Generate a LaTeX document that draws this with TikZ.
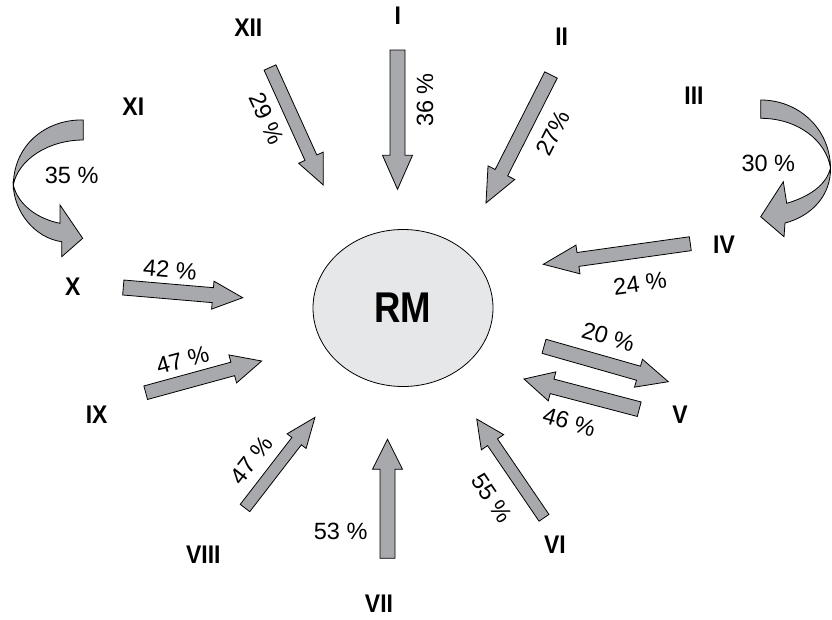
\documentclass[tikz,border=0pt]{standalone}
\usepackage{fontspec}
\setmainfont{Liberation Sans}
\usetikzlibrary{calc,shapes.geometric}
\definecolor{arrowgray}{HTML}{A7A9AC}
\definecolor{rmgray}{HTML}{E6E7E8}
\newcommand\narrow[1]{\scalebox{0.9}[1]{#1}}
\begin{document}
\begin{tikzpicture}[x=1pt,y=-1pt,
  arrowbody/.style={draw=black,fill=arrowgray,line width=0.8pt,line join=miter},
  numeral/.style={font=\bfseries\fontsize{25.5}{26}\selectfont,inner sep=0pt},
  share/.style={font=\fontsize{23.5}{24}\selectfont,inner sep=0pt},
  pics/blockarrow/.style={code={
     \tikzset{blockarrow/.cd,#1}
     \def\pv##1{\pgfkeysvalueof{/tikz/blockarrow/##1}}
     \draw[arrowbody] (0,-\pv{shaft}) -- (\pv{length}-\pv{headlen},-\pv{shaft})
       -- (\pv{length}-\pv{headlen},-\pv{head}) -- (\pv{length},0)
       -- (\pv{length}-\pv{headlen},\pv{head}) -- (\pv{length}-\pv{headlen},\pv{shaft})
       -- (0,\pv{shaft}) -- cycle;
    }},blockarrow/.cd,length/.initial=100,shaft/.initial=7,head/.initial=15,
    headlen/.initial=32]
 \useasboundingbox (0,0) rectangle (832,619);
 % centre
 \node[ellipse,draw,fill=rmgray,line width=0.8pt,minimum width=180,minimum height=157,
   inner sep=0pt,font=\bfseries\fontsize{43}{43}\selectfont] (rm) at (403,308)
   {\scalebox{0.85}[1]{RM}};
 % straight arrows
 \foreach \nm/\tail/\tip/\s/\h/\l in {I/{397.5,50}/{397.5,189.3}/7.5/15/34,
     II/{551,75}/{486,203}/7/15/34, XII/{270,67.5}/{323.3,185}/6.5/13.5/30,
     X/{123.3,287.5}/{242.7,297.7}/7.5/14/30, IV/{690.3,243.7}/{543.3,264.3}/7/14.5/35,
     IX/{145.7,392.7}/{261.7,361}/7/14.5/30, VIII/{245,508}/{315,417.3}/6/12/30,
     VII/{387.5,558.3}/{387.5,439.3}/7.5/15/30, Vout/{544,346.3}/{668.3,381.7}/7.3/14.5/31,
     Vin/{639.2,409.2}/{524,379}/7.5/15/29, VI/{544,517.8}/{476.7,419}/6/13.5/28}
  {\coordinate (t\nm) at (\tail);
   \coordinate (h\nm) at (\tip);
   \path let \p1=($(h\nm)-(t\nm)$), \n1={atan2(\y1,\x1)}, \n2={veclen(\x1,\y1)} in
     (t\nm) pic[rotate=\n1]{blockarrow={length=\n2,shaft=\s,head=\h,headlen=\l}};}
 % curved arrow XI to X
 \draw[arrowbody] (83.3,120) .. controls (48,119) and (14,143) .. (13.3,185)
   .. controls (18,160) and (48,140) .. (83.3,140) -- cycle;
 \draw[arrowbody] (13.3,185) .. controls (14,212) and (35,238) .. (61.7,241.7)
   -- (61.7,256.7) -- (82.7,238.3) -- (60,205) -- (60,223.3)
   .. controls (38,219) and (18,205) .. (13.3,185) -- cycle;
 % curved arrow III to IV
 \draw[arrowbody] (760.7,100) .. controls (798,100) and (830,128) .. (830.5,168)
   .. controls (826,140) and (797,118.3) .. (760.7,118.3) -- cycle;
 \draw[arrowbody] (830.5,168) .. controls (831,195) and (812,216) .. (785,223)
   -- (784,236.7) -- (760.7,216.7) -- (783.3,181.7) -- (786.7,203.3)
   .. controls (808,197) and (826,186) .. (830.5,168) -- cycle;
 % numerals
 \node[numeral] (nI) at (397.7,16) {\narrow{I}};
 \node[numeral] (nII) at (561.7,37) {\narrow{II}};
 \node[numeral] (nIII) at (694,96) {\narrow{III}};
 \node[numeral] (nIV) at (724,245) {\narrow{IV}};
 \node[numeral] (nV) at (680,415) {\narrow{V}};
 \node[numeral] (nVI) at (555,545) {\narrow{VI}};
 \node[numeral] (nVII) at (379,604) {\narrow{VII}};
 \node[numeral] (nVIII) at (203.3,555) {\narrow{VIII}};
 \node[numeral] (nIX) at (96.7,414.3) {\narrow{IX}};
 \node[numeral] (nX) at (72.7,286.7) {\narrow{X}};
 \node[numeral] (nXI) at (133.3,106.7) {\narrow{XI}};
 \node[numeral] (nXII) at (248.3,27.3) {\narrow{XII}};
 % shares
 \node[share,rotate=90] (p36) at (425,100) {36 \%};
 \node[share,rotate=63] (p27) at (552.7,133.3) {27\%};
 \node[share,rotate=-65] (p29) at (266.7,118.3) {29 \%};
 \node[share] (p35) at (71.7,175) {35 \%};
 \node[share] (p30) at (768.3,163.3) {30 \%};
 \node[share,rotate=-5] (p42) at (170,270) {42 \%};
 \node[share,rotate=8] (p24) at (640,283.3) {24 \%};
 \node[share,rotate=15] (p47a) at (182.7,360) {47 \%};
 \node[share,rotate=52] (p47b) at (251.7,460) {47 \%};
 \node[share] (p53) at (340.7,531.7) {53 \%};
 \node[share,rotate=-56] (p55) at (491.7,498.3) {55 \%};
 \node[share,rotate=-16] (p20) at (608.3,336.7) {20 \%};
 \node[share,rotate=-16] (p46) at (569.3,421.7) {46 \%};
\end{tikzpicture}
\end{document}
